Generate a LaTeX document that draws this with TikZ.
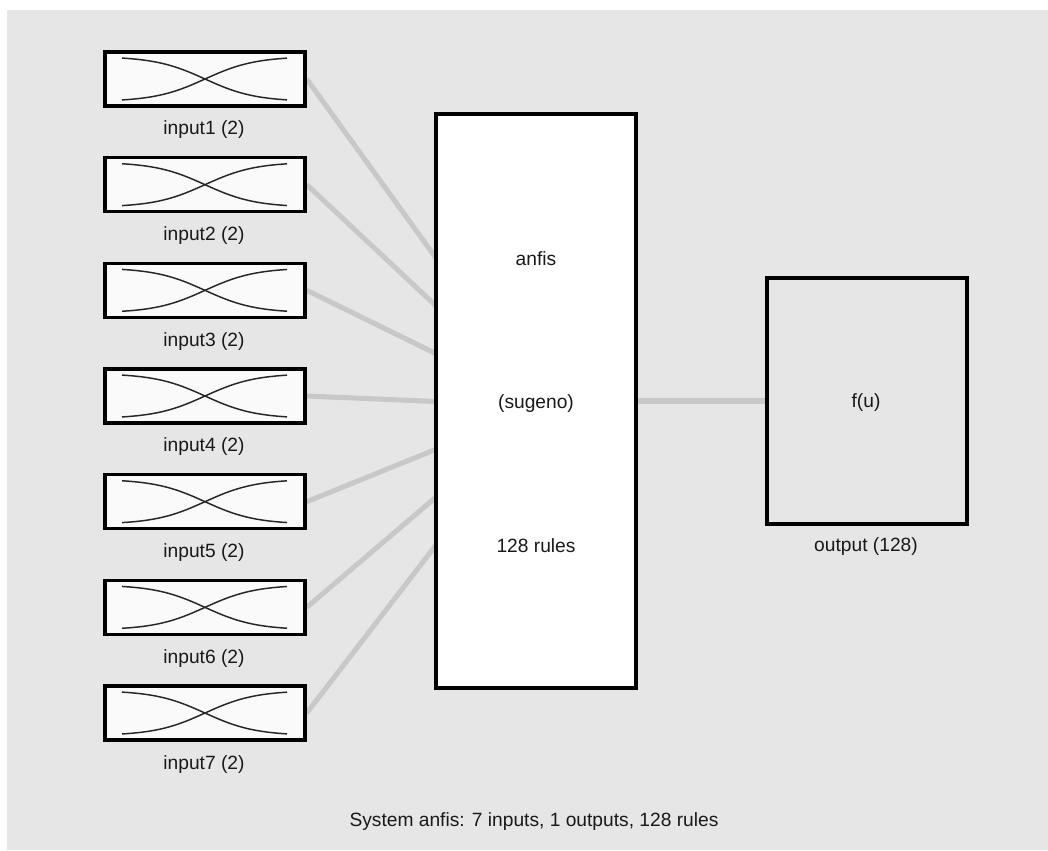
\documentclass[tikz,border=0pt]{standalone}
\usepackage{fontspec}
\setmainfont{Liberation Sans}
\definecolor{bggray}{RGB}{230,230,230}
\definecolor{wire}{RGB}{200,200,200}
\definecolor{ink}{RGB}{25,25,25}
\definecolor{boxfill}{RGB}{250,250,250}
\pgfdeclarelayer{bgl}
\pgfdeclarelayer{wires}
\pgfsetlayers{bgl,wires,main}
\tikzset{
  every node/.style={font=\fontsize{14.4}{17}\selectfont, text=ink},
  inbox/.style={draw=black, line width=2.6pt, fill=boxfill, minimum width=150pt, minimum height=40.5pt, inner sep=0pt},
  fisbox/.style={draw=black, line width=2.6pt, fill=white, minimum width=150pt, minimum height=430.5pt, inner sep=0pt},
  outbox/.style={draw=black, line width=2.6pt, fill=bggray, minimum width=150pt, minimum height=184.5pt, inner sep=0pt},
  mfcurve/.style={draw=black!85, line width=1.1pt},
  wireline/.style={draw=wire, line width=3.8pt},
  lbl/.style={inner sep=0pt}
}
\begin{document}
\begin{tikzpicture}[x=0.75pt, y=-0.75pt]
\useasboundingbox (0,0) rectangle (1048,850);
\begin{pgfonlayer}{bgl}
  \fill[white] (0,0) rectangle (1048,850);
  \fill[bggray] (7,10) rectangle (1048,850);
\end{pgfonlayer}
% input boxes
\foreach \i in {1,...,7} {
  \pgfmathsetmacro{\yc}{79+(\i-1)*105.67}
  \node[inbox] (in\i) at (205,\yc) {};
  \draw[mfcurve] plot[domain=-83:82, samples=50, smooth] ({205+\x}, {\yc-22.5+45/(1+exp(-\x/25))});
  \draw[mfcurve] plot[domain=-83:82, samples=50, smooth] ({205+\x}, {\yc-22.5+45/(1+exp(\x/25))});
  \node[lbl] (lab\i) at (204,\yc+51) {input\i{} (2)};
}
% fis box
\node[fisbox] (fis) at (536,401) {};
\node[lbl] (t1) at (536,259) {anfis};
\node[lbl] (t2) at (536,404) {(sugeno)};
\node[lbl] (t3) at (536,546) {128 rules};
% output box
\node[outbox] (out) at (867,401) {};
\node[lbl] (fu) at (866,403) {f(u)};
\node[lbl] (outlab) at (866,547) {output (128)};
% caption
\node[lbl] (cap) at (534,822) {System anfis: 7 inputs, 1 outputs, 128 rules};
% wires
\foreach \i in {1,...,7} {
  \coordinate (a\i) at (436,{258+(\i-1)*47.83});
}
\begin{pgfonlayer}{wires}
  \foreach \i in {1,...,7} {
    \draw[wireline] (in\i.east) -- (a\i);
  }
  \draw[wireline] (fis.east) -- (out.west);
\end{pgfonlayer}
\end{tikzpicture}
\end{document}
